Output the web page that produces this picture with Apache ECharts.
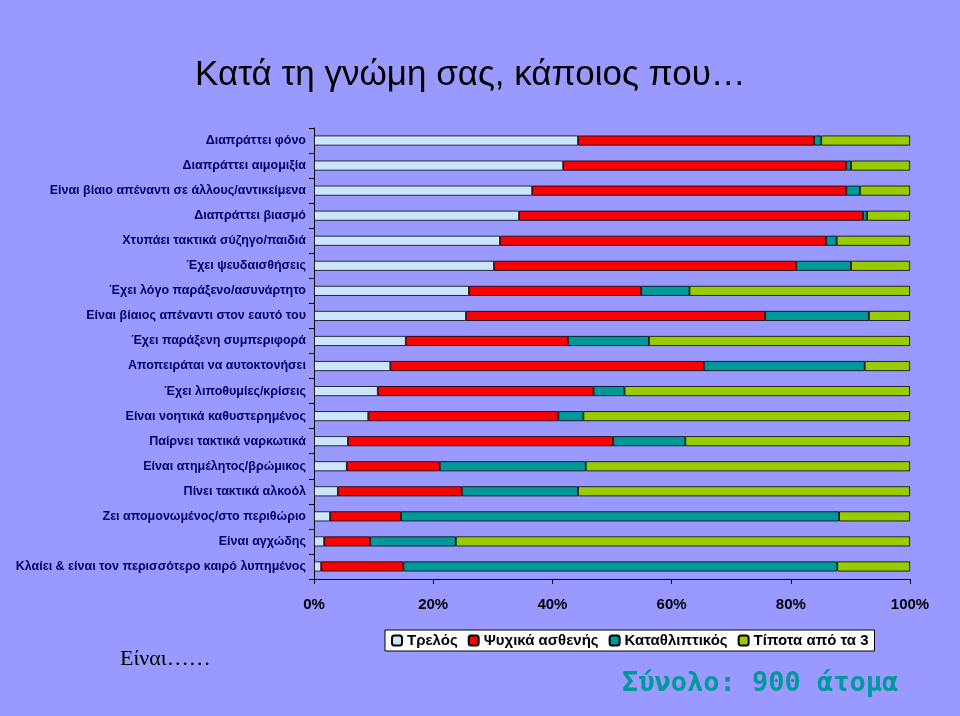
<!DOCTYPE html><html><head><meta charset="utf-8"><script src="https://cdn.jsdelivr.net/npm/echarts@6/dist/echarts.min.js"></script>
<style>body{margin:0;background:#9999ff}#c{width:960px;height:716px}</style></head><body><div id="c"></div><script>
const categories=["Διαπράττει φόνο","Διαπράττει αιμομιξία","Είναι βίαιο απέναντι σε άλλους/αντικείμενα","Διαπράττει βιασμό","Χτυπάει τακτικά σύζηγο/παιδιά","Έχει ψευδαισθήσεις","Έχει λόγο παράξενο/ασυνάρτητο","Είναι βίαιος απέναντι στον εαυτό του","Έχει παράξενη συμπεριφορά","Αποπειράται να αυτοκτονήσει","Έχει λιποθυμίες/κρίσεις","Είναι νοητικά καθυστερημένος","Παίρνει τακτικά ναρκωτικά","Είναι ατημέλητος/βρώμικος","Πίνει τακτικά αλκοόλ","Ζει απομονωμένος/στο περιθώριο","Είναι αγχώδης","Κλαίει & είναι τον περισσότερο καιρό λυπημένος"];
const trelos=[44.3,41.8,36.6,34.4,31.2,30.2,26.0,25.5,15.4,12.8,10.7,9.1,5.7,5.5,4.0,2.7,1.7,1.2];
const psyx=[39.6,47.5,52.7,57.7,54.7,50.7,28.9,50.2,27.2,52.6,36.2,31.9,44.5,15.6,20.8,11.9,7.7,13.8];
const katath=[1.2,0.8,2.3,0.7,1.8,9.2,8.1,17.4,13.6,27.0,5.2,4.2,12.1,24.5,19.5,73.5,14.4,72.8];
const tipota=[14.9,9.9,8.4,7.2,12.3,9.9,37.0,6.9,43.8,7.6,47.9,54.8,37.7,54.4,55.7,11.9,76.2,12.2];
const names=["Τρελός","Ψυχικά ασθενής","Καταθλιπτικός","Τίποτα από τα 3"];
const colors=["#cce6ff","#ff0000","#009999","#99cc00"];
const ch=echarts.init(document.getElementById('c'));
const mk=(n,d,i)=>({name:n,type:'bar',stack:'s',data:d,barWidth:10,itemStyle:{color:colors[i],borderColor:'#000',borderWidth:0.8}});
ch.setOption({backgroundColor:'#9999ff',animation:false,
title:[{text:'Κατά τη γνώμη σας, κάποιος που…',left:190,top:53,textStyle:{fontFamily:'Liberation Sans',fontSize:35,fontWeight:'normal',color:'#000'}},
{text:'Είναι……',left:115,top:643,textStyle:{fontFamily:'Liberation Serif',fontSize:22,fontWeight:'normal',color:'#000'}},
{text:'Σύνολο: 900 άτομα',left:617,top:665,textStyle:{fontFamily:'DejaVu Sans Mono',fontSize:27,fontWeight:'bold',color:'#009999'}}],
legend:{left:385,top:630,itemWidth:10,itemHeight:10,itemGap:10,backgroundColor:'#fff',borderColor:'#000',borderWidth:1,padding:[3,6],textStyle:{fontFamily:'Liberation Sans',fontSize:15,fontWeight:'bold',color:'#000'},data:names},
grid:{left:314,right:50,top:128,bottom:137},
xAxis:{type:'value',min:0,max:100,interval:20,axisLine:{show:true,lineStyle:{color:'#000'}},axisTick:{show:true,lineStyle:{color:'#000'}},splitLine:{show:false},
axisLabel:{formatter:'{value}%',color:'#000',fontFamily:'Liberation Sans',fontSize:15,fontWeight:'bold',margin:18}},
yAxis:{type:'category',inverse:true,data:categories,axisLine:{lineStyle:{color:'#000'}},axisTick:{show:true,lineStyle:{color:'#000'}},
axisLabel:{color:'#000066',fontFamily:'Liberation Sans',fontSize:12.5,fontWeight:'bold',margin:8}},
series:[mk(names[0],trelos,0),mk(names[1],psyx,1),mk(names[2],katath,2),mk(names[3],tipota,3)]});
</script></body></html>
